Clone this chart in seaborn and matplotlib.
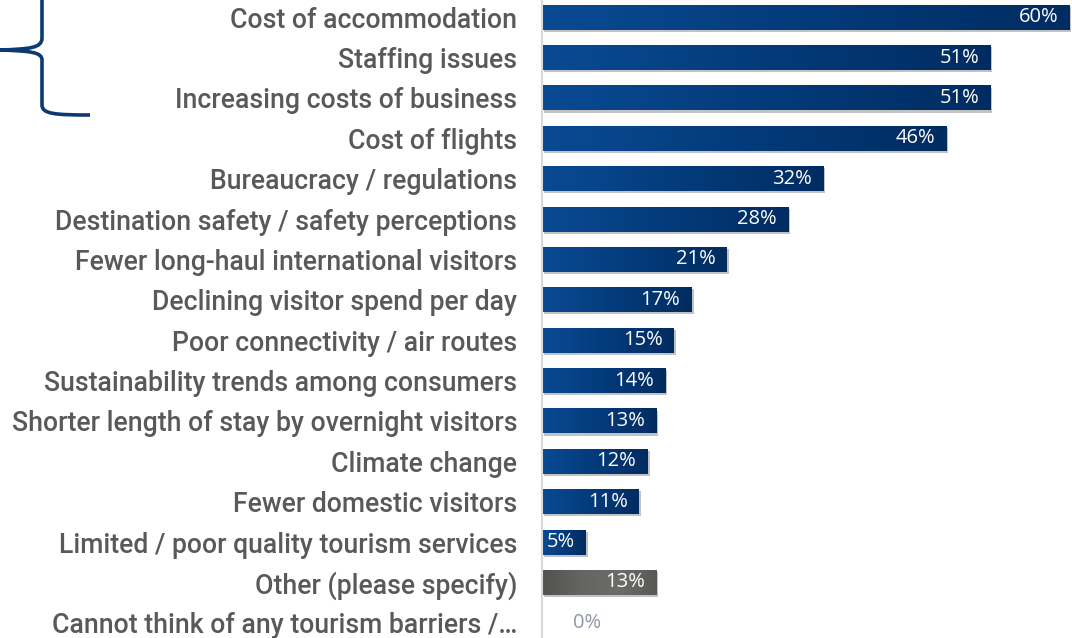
import numpy as np
import pandas as pd
import matplotlib
matplotlib.use("Agg")
import matplotlib.pyplot as plt
import matplotlib.patheffects as pe
from matplotlib.colors import LinearSegmentedColormap
from matplotlib.path import Path
from matplotlib.patches import PathPatch
import seaborn as sns

categories = [
    "Cost of accommodation",
    "Staffing issues",
    "Increasing costs of business",
    "Cost of flights",
    "Bureaucracy / regulations",
    "Destination safety / safety perceptions",
    "Fewer long-haul international visitors",
    "Declining visitor spend per day",
    "Poor connectivity / air routes",
    "Sustainability trends among consumers",
    "Shorter length of stay by overnight visitors",
    "Climate change",
    "Fewer domestic visitors",
    "Limited / poor quality tourism services",
    "Other (please specify)",
    "Cannot think of any tourism barriers /\u2026",
]
values = [60, 51, 51, 46, 32, 28, 21, 17, 15, 14, 13, 12, 11, 5, 13, 0]
groups = ["barrier"] * 14 + ["other", "none"]

df = pd.DataFrame({"category": categories, "value": values, "group": groups})

sns.set_theme(style="white")
plt.rcParams["font.family"] = ["Roboto", "DejaVu Sans"]

W, H = 1072, 638
fig = plt.figure(figsize=(W / 100, H / 100), dpi=100)
# axes spans from the vertical baseline to the right edge
ax_left, ax_right = 542, 1072
ax_top, ax_bottom = -3, 643
ax = fig.add_axes([ax_left / W, 1 - ax_bottom / H,
                   (ax_right - ax_left) / W, (ax_bottom - ax_top) / H])

base_colors = {"barrier": "#03408a", "other": "#626260", "none": "#626260"}
sns.barplot(data=df, y="category", x="value", hue="group", palette=base_colors,
            dodge=False, legend=False, width=0.62, ax=ax, orient="h")

XMAX = 60.3
ax.set_xlim(0, XMAX)
ax.set_ylim(len(categories) - 0.5, -0.5)

blue_cmap = LinearSegmentedColormap.from_list("blue", ["#0a4a93", "#033b7a", "#012c61"])
gray_cmap = LinearSegmentedColormap.from_list("gray", ["#525250", "#646461", "#6c6c68", "#585854"])
grad = np.linspace(0, 1, 256).reshape(1, -1)

shadow = [pe.SimplePatchShadow(offset=(1.5, -1.5), shadow_rgbFace="#9a9a9a", alpha=0.6),
          pe.Normal()]

for patch in ax.patches:
    w = patch.get_width()
    if w <= 0:
        continue
    y0 = patch.get_y()
    h = patch.get_height()
    idx = int(round(y0 + h / 2))
    cmap = gray_cmap if groups[idx] == "other" else blue_cmap
    patch.set_path_effects(shadow)
    patch.set_edgecolor("none")
    im = ax.imshow(grad, extent=(0, w, y0 + h, y0), aspect="auto", cmap=cmap,
                   zorder=patch.get_zorder() + 0.1, interpolation="bilinear")
    im.set_clip_path(patch)

ax.set_xlim(0, XMAX)
ax.set_ylim(len(categories) - 0.5, -0.5)

# value labels
val_font = ["Open Sans", "DejaVu Sans"]
for i, v in enumerate(values):
    if v > 0:
        ax.annotate(f"{v}%", xy=(v, i), xytext=(-8, 0), textcoords="offset points",
                    ha="right", va="center", color="white", fontsize=14.5,
                    family=val_font, zorder=5, annotation_clip=False)
    else:
        ax.annotate(f"{v}%", xy=(v, i), xytext=(22, 0), textcoords="offset points",
                    ha="left", va="center", color="#8f98a8", fontsize=14.5,
                    family=val_font, zorder=5, annotation_clip=False)

ax.set_xlabel("")
ax.set_ylabel("")
ax.set_xticks([])
ax.tick_params(axis="y", length=0, pad=18, labelsize=19.2, labelcolor="#595959")
for lab in ax.get_yticklabels():
    lab.set_fontweight(500)
for s in ["top", "right", "bottom"]:
    ax.spines[s].set_visible(False)
ax.spines["left"].set_color("#d9d9d9")
ax.spines["left"].set_linewidth(1.5)

# brace grouping the top three barriers (figure pixel coordinates, y down)
def px(x, y):
    return (x / W, 1 - y / H)

verts = [px(42, -5), px(42, 38),
         px(42, 48), px(30, 49), px(0, 50),
         px(30, 51), px(42, 52), px(42, 60),
         px(42, 105),
         px(42, 114), px(55, 115), px(90, 115)]
codes = [Path.MOVETO, Path.LINETO,
         Path.CURVE4, Path.CURVE4, Path.CURVE4,
         Path.CURVE4, Path.CURVE4, Path.CURVE4,
         Path.LINETO,
         Path.CURVE4, Path.CURVE4, Path.CURVE4]
brace = PathPatch(Path(verts, codes), transform=fig.transFigure, facecolor="none",
                  edgecolor="#0b3a72", linewidth=2.6, capstyle="butt", joinstyle="round")
fig.patches.append(brace)

fig.savefig("out.png", dpi=100, facecolor="white")
